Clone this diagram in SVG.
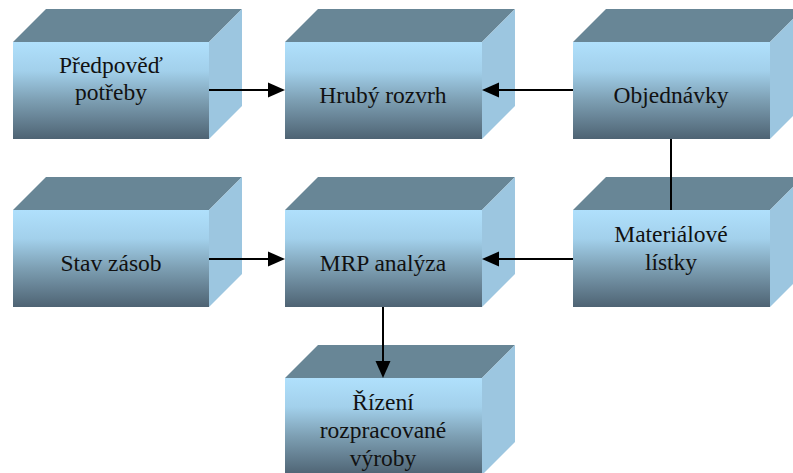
<svg xmlns="http://www.w3.org/2000/svg" width="793" height="473" viewBox="0 0 793 473">
<defs>
<linearGradient id="front" x1="0" y1="0" x2="0" y2="1">
<stop offset="0" stop-color="#B0E0FC"/>
<stop offset="0.3" stop-color="#A2D0EB"/>
<stop offset="0.6" stop-color="#7D9FB3"/>
<stop offset="1" stop-color="#4E6373"/>
</linearGradient>
<path id="ah" d="M0,0 L-17,-7.5 L-17,7.5 Z" fill="#000"/>
</defs>
<style>
.top{fill:#688696}
.side{fill:#9CC6E0}
.front{fill:url(#front)}
.t{fill:#111;text-anchor:middle}
.c{stroke:#000;stroke-width:2;fill:none}
</style>
<rect width="793" height="473" fill="#fff"/>
<g id="predpoved">
<polygon class="top" points="13,42 46,9 242,9 209,42"/>
<polygon class="side" points="209,42 242,9 242,106 209,139"/>
<rect class="front" x="13" y="42" width="196" height="97"/>
<text class="t" x="111" y="73" font-family="Liberation Serif" font-size="23.5">Předpověď</text>
<text class="t" x="111" y="100" font-family="Liberation Serif" font-size="23.5">potřeby</text>
</g>
<g id="hruby">
<polygon class="top" points="285,42 318,9 515,9 482,42"/>
<polygon class="side" points="482,42 515,9 515,106 482,139"/>
<rect class="front" x="285" y="42" width="197" height="97"/>
<text class="t" x="383" y="103" font-family="Liberation Serif" font-size="23.5">Hrubý rozvrh</text>
</g>
<g id="objednavky">
<polygon class="top" points="573,42 606,9 803,9 770,42"/>
<polygon class="side" points="770,42 803,9 803,106 770,139"/>
<rect class="front" x="573" y="42" width="197" height="97"/>
<text class="t" x="671" y="103" font-family="Liberation Serif" font-size="23.5">Objednávky</text>
</g>
<g id="stav">
<polygon class="top" points="13,210 46,177 242,177 209,210"/>
<polygon class="side" points="209,210 242,177 242,274 209,307"/>
<rect class="front" x="13" y="210" width="196" height="97"/>
<text class="t" x="111" y="271" font-family="Liberation Serif" font-size="23.5">Stav zásob</text>
</g>
<g id="mrp">
<polygon class="top" points="285,210 318,177 515,177 482,210"/>
<polygon class="side" points="482,210 515,177 515,274 482,307"/>
<rect class="front" x="285" y="210" width="197" height="97"/>
<text class="t" x="383" y="271" font-family="Liberation Serif" font-size="23.5">MRP analýza</text>
</g>
<g id="materialove">
<polygon class="top" points="573,210 606,177 803,177 770,210"/>
<polygon class="side" points="770,210 803,177 803,274 770,307"/>
<rect class="front" x="573" y="210" width="197" height="97"/>
<text class="t" x="671" y="242" font-family="Liberation Serif" font-size="23.5">Materiálové</text>
<text class="t" x="671" y="270" font-family="Liberation Serif" font-size="23.5">lístky</text>
</g>
<g id="rizeni">
<polygon class="top" points="285,378 318,345 515,345 482,378"/>
<polygon class="side" points="482,378 515,345 515,442 482,475"/>
<rect class="front" x="285" y="378" width="197" height="97"/>
<text class="t" x="383" y="410" font-family="Liberation Serif" font-size="23.5">Řízení</text>
<text class="t" x="383" y="438" font-family="Liberation Serif" font-size="23.5">rozpracované</text>
<text class="t" x="383" y="466" font-family="Liberation Serif" font-size="23.5">výroby</text>
</g>
<g id="connectors">
<line class="c" x1="209" y1="90" x2="270" y2="90"/>
<use href="#ah" transform="translate(285,90)"/>
<line class="c" x1="573" y1="90" x2="497" y2="90"/>
<use href="#ah" transform="translate(482,90) rotate(180)"/>
<line class="c" x1="671" y1="139" x2="671" y2="210"/>
<line class="c" x1="209" y1="259" x2="270" y2="259"/>
<use href="#ah" transform="translate(285,259)"/>
<line class="c" x1="573" y1="259" x2="497" y2="259"/>
<use href="#ah" transform="translate(482,259) rotate(180)"/>
<line class="c" x1="383" y1="307" x2="383" y2="363"/>
<use href="#ah" transform="translate(383,378) rotate(90)"/>
</g>
</svg>
